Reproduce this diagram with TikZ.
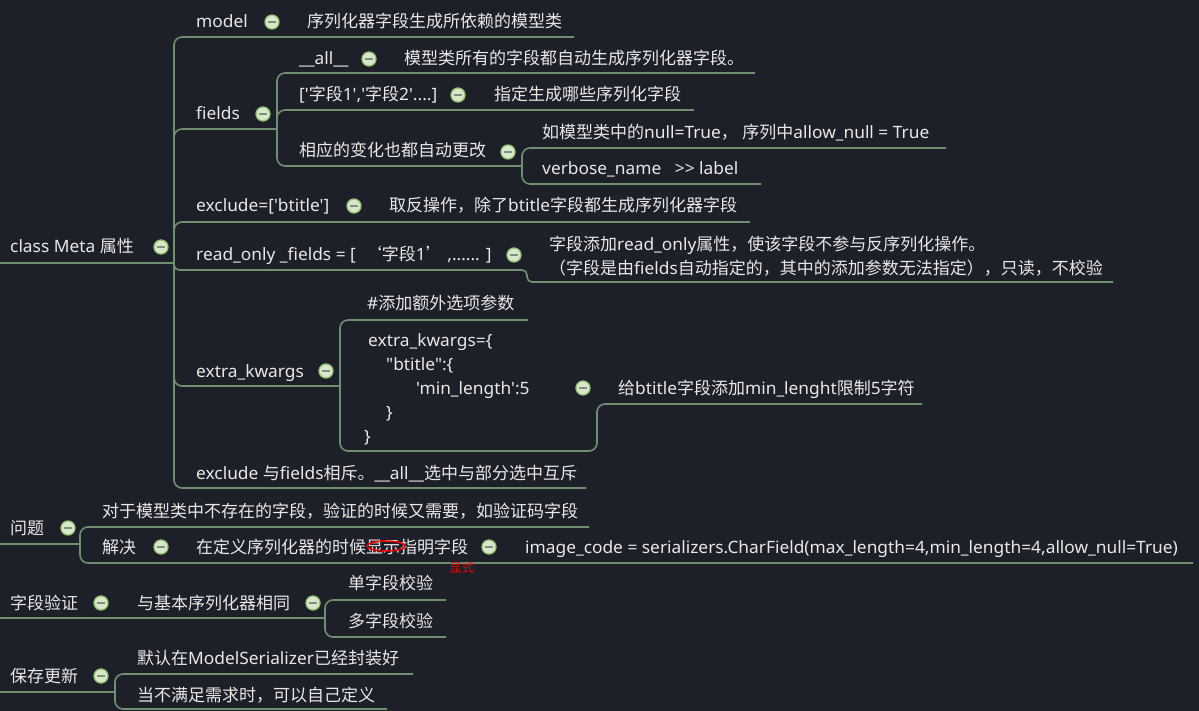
\documentclass[tikz,border=0pt]{standalone}
\usepackage{fontspec}
\setmainfont{Noto Sans}
\newfontfamily\cjkf{Noto Sans CJK SC}
\newfontfamily\latf{Noto Sans}[FakeStretch=1.02]
\XeTeXinterchartokenstate=1
\newXeTeXintercharclass\cjkcls
\newcount\mycc
\def\setcjkrange#1#2{\mycc=#1\relax\loop\XeTeXcharclass\mycc=\cjkcls\relax\ifnum\mycc<#2\relax\advance\mycc by 1\relax\repeat}
\setcjkrange{"3000}{"303F}
\setcjkrange{"4E00}{"9FFF}
\setcjkrange{"FF00}{"FFEF}
\XeTeXcharclass"2018=\cjkcls
\XeTeXcharclass"2019=\cjkcls
\XeTeXinterchartoks 0 \cjkcls = {\cjkf}
\XeTeXinterchartoks 4095 \cjkcls = {\cjkf}
\XeTeXinterchartoks \cjkcls 0 = {\latf}
\XeTeXinterchartoks \cjkcls 4095 = {\latf}
\definecolor{bgc}{HTML}{1D2029}
\definecolor{linec}{HTML}{6F8F71}
\definecolor{txtc}{HTML}{E8E8E8}
\definecolor{togf}{HTML}{D8E8C8}
\definecolor{togd}{HTML}{93C373}
\definecolor{togm}{HTML}{7F8F7F}
\definecolor{redc}{HTML}{F00000}
\begin{document}
\begin{tikzpicture}[x=1pt,y=-1pt,
  tx/.style={anchor=base west, inner sep=0pt, text=txtc, font=\latf\fontsize{17}{24}\selectfont},
  tog/.style={circle, inner sep=0pt, minimum size=14pt, fill=togf, draw=togd, line width=1.3pt,
    path picture={\draw[draw=togm, line width=1.6pt] ([xshift=-3.8pt]path picture bounding box.center) -- ([xshift=3.8pt]path picture bounding box.center);}},
  conn/.style={draw=linec, line width=1.6pt, rounded corners=8pt},
  short/.style={rounded corners=5pt},
]
\useasboundingbox (0,0) rectangle (1199,711);
\fill[bgc] (0,0) rectangle (1199,711);

% ---------- junction coordinates ----------
\coordinate (J1) at (174,263);
\coordinate (J2) at (277,129);
\coordinate (J3) at (527,270);
\coordinate (J4) at (340,386);
\coordinate (J5) at (597,451);
\coordinate (J6) at (522,166);
\coordinate (J7) at (80,544);
\coordinate (J8) at (325,618);
\coordinate (J9) at (115,692);

% ---------- connectors ----------
\draw[conn] (0,263) -- (J1);
\draw[conn] (J1) -- (174,37) -- (574,37);
\draw[conn] (J1) -- (174,129) -- (J2);
\draw[conn] (J1) -- (174,222) -- (750,222);
\draw[conn,short] (J1) -- (174,270) -- (J3) -- (527,282) -- (1113,282);
\draw[conn] (J1) -- (174,386) -- (J4);
\draw[conn] (J1) -- (174,488) -- (586,488);

\draw[conn] (J2) -- (277,73) -- (755,73);
\draw[conn] (J2) -- (277,110) -- (694,110);
\draw[conn] (J2) -- (277,166) -- (J6);
\draw[conn] (J6) -- (522,148) -- (946,148);
\draw[conn] (J6) -- (522,184) -- (761,184);

\draw[conn] (J4) -- (340,320) -- (528,320);
\draw[conn] (J4) -- (340,451) -- (J5) -- (597,404) -- (922,404);

\draw[conn] (0,544) -- (J7);
\draw[conn] (J7) -- (80,527) -- (589,527);
\draw[conn] (J7) -- (80,563) -- (1193,563);

\draw[conn] (0,618) -- (J8);
\draw[conn] (J8) -- (325,600) -- (446,600);
\draw[conn] (J8) -- (325,637) -- (446,637);

\draw[conn] (0,692) -- (J9);
\draw[conn] (J9) -- (115,674) -- (413,674);
\draw[conn] (J9) -- (115,709) -- (387,709);

% ---------- class Meta ----------
\node[tx] (cm) at (10,253) {class Meta 属性};
\node[tog] (tcm) at (161,247) {};
\node[tx] (model) at (196,28) {model};
\node[tog] (tmodel) at (272,22) {};
\node[tx] (modeld) at (307,28) {序列化器字段生成所依赖的模型类};
\node[tx] (fields) at (196,120) {fields};
\node[tog] (tfields) at (263,114) {};
\node[tx] (all) at (299,65) {\_\_all\_\_};
\node[tog] (tall) at (369,59) {};
\node[tx] (alld) at (404,65) {模型类所有的字段都自动生成序列化器字段。};
\node[tx] (f12) at (299,101) {['字段1','字段2'....]};
\node[tog] (tf12) at (458,95) {};
\node[tx] (f12d) at (494,101) {指定生成哪些序列化字段};
\node[tx] (xy) at (299,157) {相应的变化也都自动更改};
\node[tog] (txy) at (508,152) {};
\node[tx] (nul) at (542,139) {如模型类中的null=True， 序列中allow\_null = True};
\node[tx] (vb) at (542,175) {verbose\_name\ \ \ >> label};
\node[tx] (ex) at (196,212) {exclude=['btitle']};
\node[tog] (tex) at (354,206) {};
\node[tx] (exd) at (389,212) {取反操作，除了btitle字段都生成序列化器字段};
\node[tx] (ro) at (196,261) {read\_only \_fields = [\ \ ‘字段1’ ,...... ]};
\node[tog] (tro) at (514,255) {};
\node[tx, anchor=west, align=left] (rod) at (549,256) {字段添加read\_only属性，使该字段不参与反序列化操作。\\（字段是由fields自动指定的，其中的添加参数无法指定），只读，不校验};
\node[tx] (ek) at (196,377) {extra\_kwargs};
\node[tog] (tek) at (326,371) {};
\node[tx] (add) at (367,309) {\#添加额外选项参数};
\node[tx, anchor=west, align=left] (code) at (364,389) {\hspace*{4pt}extra\_kwargs=\{\\\hspace*{22pt}"btitle":\{\\\hspace*{52pt}'min\_length':5\\\hspace*{22pt}\}\\\}};
\node[tog] (tcode) at (583,388) {};
\node[tx] (coded) at (618,394) {给btitle字段添加min\_lenght限制5字符};
\node[tx] (exf) at (196,479) {exclude 与fields相斥。\_\_all\_\_选中与部分选中互斥};

% ---------- 问题 ----------
\node[tx] (wt) at (10,534) {问题};
\node[tog] (twt) at (68,528) {};
\node[tx] (wtd) at (102,517) {对于模型类中不存在的字段，验证的时候又需要，如验证码字段};
\node[tx] (jj) at (102,553) {解决};
\node[tog] (tjj) at (161,547) {};
\node[tx] (jjd) at (196,553) {在定义序列化器的时候显示指明字段};
\node[tog] (tjjd) at (489,547) {};
\node[tx] (ic) at (525,553) {image\_code = serializers.CharField(max\_length=4,min\_length=4,allow\_null=True)};
\draw[redc, line width=1.5pt] (386,546) ellipse [x radius=19pt, y radius=5pt];
\node[anchor=base west, inner sep=0pt, text=redc, font=\cjkf\fontsize{12.5}{14}\selectfont] (note) at (449,572) {显式};

% ---------- 字段验证 ----------
\node[tx] (zy) at (10,609) {字段验证};
\node[tog] (tzy) at (101,603) {};
\node[tx] (zyd) at (137,609) {与基本序列化器相同};
\node[tog] (tzyd) at (313,603) {};
\node[tx] (dz1) at (348,589) {单字段校验};
\node[tx] (dz2) at (348,627) {多字段校验};

% ---------- 保存更新 ----------
\node[tx] (bc) at (10,682) {保存更新};
\node[tog] (tbc) at (101,676) {};
\node[tx] (mr) at (137,664) {默认在ModelSerializer已经封装好};
\node[tx] (bm) at (137,701) {当不满足需求时，可以自己定义};
\end{tikzpicture}
\end{document}
